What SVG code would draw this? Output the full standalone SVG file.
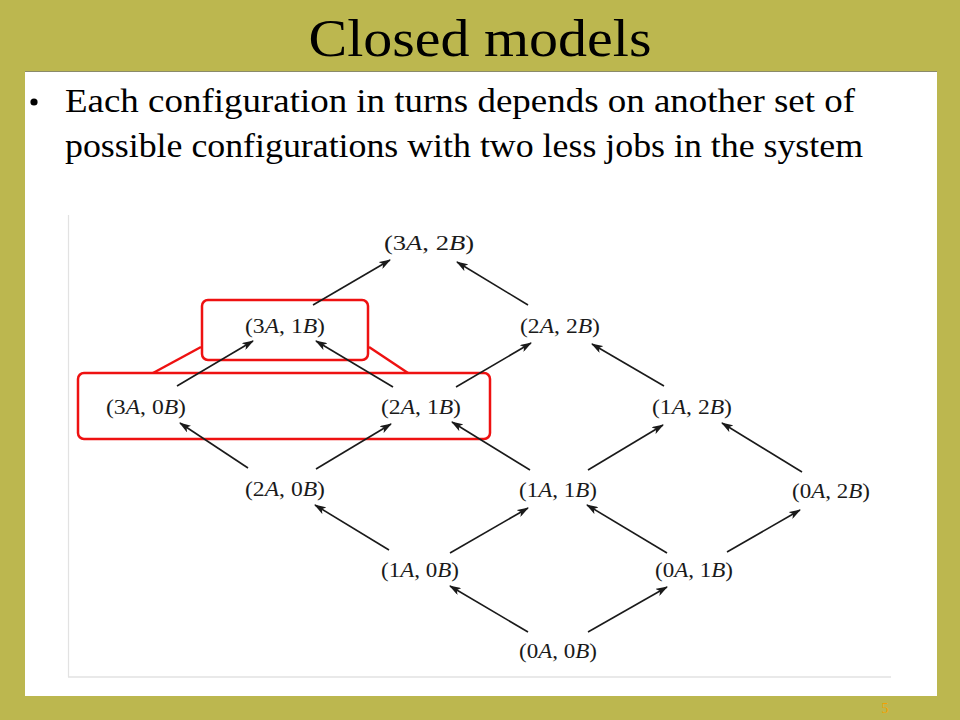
<svg xmlns="http://www.w3.org/2000/svg" width="960" height="720" viewBox="0 0 960 720">
<style>
.n{font-family:"Liberation Serif","Times New Roman",serif;font-size:20px;fill:#1a1a1a;text-anchor:middle}
.i{font-style:italic}
.e{stroke:#1a1a1a;stroke-width:1.6;fill:none;marker-end:url(#ah)}
.r{fill:none;stroke:#ee1111;stroke-width:2.5}
</style>
<defs>
<marker id="ah" viewBox="0 0 12 8" refX="11" refY="4" markerWidth="12" markerHeight="8" markerUnits="userSpaceOnUse" orient="auto">
<path d="M0,0 L12,4 L0,8 L3,4 Z" fill="#1a1a1a"/>
</marker>
</defs>
<rect width="960" height="720" fill="#bcb74f"/>
<rect x="25" y="71" width="912" height="625" fill="#ffffff"/>
<line x1="25" y1="71.5" x2="937" y2="71.5" stroke="#8a8a6a" stroke-width="1.2"/>
<text x="480" y="56" font-family="Liberation Serif,serif" font-size="52" text-anchor="middle" textLength="343" lengthAdjust="spacingAndGlyphs" fill="#000">Closed models</text>
<circle cx="34" cy="102" r="3.6" fill="#000"/>
<text x="65" y="112" font-family="Liberation Serif,serif" font-size="33" textLength="790" lengthAdjust="spacingAndGlyphs" fill="#000">Each configuration in turns depends on another set of</text>
<text x="65" y="157" font-family="Liberation Serif,serif" font-size="33" textLength="798" lengthAdjust="spacingAndGlyphs" fill="#000">possible configurations with two less jobs in the system</text>
<g id="frame">
<line x1="68.5" y1="215" x2="68.5" y2="677" stroke="#e2e2e2" stroke-width="1.2"/>
<line x1="68" y1="677" x2="891" y2="677" stroke="#e2e2e2" stroke-width="1.5"/>
</g>
<g id="highlight">
<rect class="r" x="202" y="300" width="166" height="60" rx="6"/>
<rect class="r" x="78" y="373" width="412" height="66" rx="6"/>
<line class="r" x1="201" y1="347" x2="153" y2="373"/>
<line class="r" x1="369" y1="347" x2="408" y2="373"/>
</g>
<g id="connectors">
<line class="e" x1="313" y1="305" x2="390" y2="260"/>
<line class="e" x1="528" y1="305" x2="457" y2="262"/>
<line class="e" x1="177" y1="386" x2="253" y2="341"/>
<line class="e" x1="393" y1="387" x2="316" y2="341"/>
<line class="e" x1="456" y1="387" x2="531" y2="343"/>
<line class="e" x1="664" y1="386" x2="592" y2="344"/>
<line class="e" x1="248" y1="468" x2="180" y2="423"/>
<line class="e" x1="316" y1="469" x2="391" y2="424"/>
<line class="e" x1="530" y1="470" x2="452" y2="422"/>
<line class="e" x1="588" y1="470" x2="663" y2="425"/>
<line class="e" x1="802" y1="472" x2="722" y2="423"/>
<line class="e" x1="389" y1="550" x2="315" y2="505"/>
<line class="e" x1="450" y1="553" x2="528" y2="508"/>
<line class="e" x1="667" y1="553" x2="587" y2="505"/>
<line class="e" x1="727" y1="552" x2="800" y2="510"/>
<line class="e" x1="528" y1="632" x2="450" y2="586"/>
<line class="e" x1="588" y1="632" x2="667" y2="587"/>
</g>
<g id="n3A2B"><text class="n" x="429" y="250" textLength="90" lengthAdjust="spacingAndGlyphs">(3<tspan class="i">A</tspan>, 2<tspan class="i">B</tspan>)</text></g>
<g id="n3A1B"><text class="n" x="285" y="333" textLength="80" lengthAdjust="spacingAndGlyphs">(3<tspan class="i">A</tspan>, 1<tspan class="i">B</tspan>)</text></g>
<g id="n2A2B"><text class="n" x="560" y="333" textLength="80" lengthAdjust="spacingAndGlyphs">(2<tspan class="i">A</tspan>, 2<tspan class="i">B</tspan>)</text></g>
<g id="n3A0B"><text class="n" x="146" y="414" textLength="80" lengthAdjust="spacingAndGlyphs">(3<tspan class="i">A</tspan>, 0<tspan class="i">B</tspan>)</text></g>
<g id="n2A1B"><text class="n" x="421" y="414" textLength="80" lengthAdjust="spacingAndGlyphs">(2<tspan class="i">A</tspan>, 1<tspan class="i">B</tspan>)</text></g>
<g id="n1A2B"><text class="n" x="692" y="414" textLength="80" lengthAdjust="spacingAndGlyphs">(1<tspan class="i">A</tspan>, 2<tspan class="i">B</tspan>)</text></g>
<g id="n2A0B"><text class="n" x="285" y="496" textLength="80" lengthAdjust="spacingAndGlyphs">(2<tspan class="i">A</tspan>, 0<tspan class="i">B</tspan>)</text></g>
<g id="n1A1B"><text class="n" x="558" y="497" textLength="78" lengthAdjust="spacingAndGlyphs">(1<tspan class="i">A</tspan>, 1<tspan class="i">B</tspan>)</text></g>
<g id="n0A2B"><text class="n" x="831" y="498" textLength="78" lengthAdjust="spacingAndGlyphs">(0<tspan class="i">A</tspan>, 2<tspan class="i">B</tspan>)</text></g>
<g id="n1A0B"><text class="n" x="420" y="577" textLength="78" lengthAdjust="spacingAndGlyphs">(1<tspan class="i">A</tspan>, 0<tspan class="i">B</tspan>)</text></g>
<g id="n0A1B"><text class="n" x="694" y="577" textLength="78" lengthAdjust="spacingAndGlyphs">(0<tspan class="i">A</tspan>, 1<tspan class="i">B</tspan>)</text></g>
<g id="n0A0B"><text class="n" x="558" y="658" textLength="78" lengthAdjust="spacingAndGlyphs">(0<tspan class="i">A</tspan>, 0<tspan class="i">B</tspan>)</text></g>
<text x="885" y="713" font-family="Liberation Serif,serif" font-size="14" fill="#f5a000" text-anchor="middle">5</text>
</svg>
